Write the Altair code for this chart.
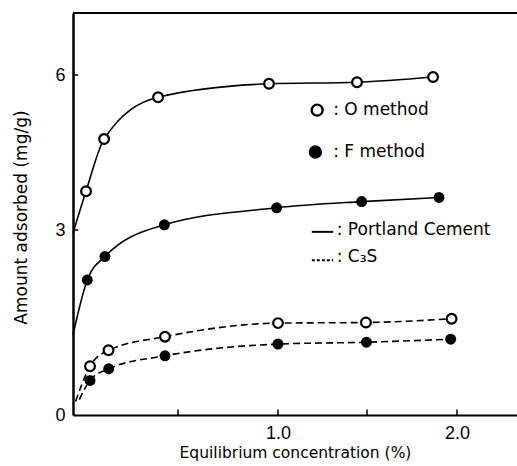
import altair as alt
import pandas as pd

# ---- data ----
pc_o_x = [0.062, 0.148, 0.405, 0.955, 1.444, 1.867]
pc_o_y = [3.75, 4.76, 5.57, 5.83, 5.86, 5.96]
pc_f_x = [0.068, 0.152, 0.435, 0.993, 1.47, 1.90]
pc_f_y = [2.19, 2.57, 3.10, 3.43, 3.55, 3.63]
c3s_o_x = [0.081, 0.169, 0.438, 1.0, 1.494, 1.97]
c3s_o_y = [0.79, 1.05, 1.27, 1.49, 1.50, 1.56]
c3s_f_x = [0.081, 0.17, 0.438, 1.0, 1.497, 1.965]
c3s_f_y = [0.56, 0.75, 0.96, 1.15, 1.18, 1.23]
# where each curve leaves the axis
start_x = {"pc_o": 0.0, "pc_f": 0.0, "c3s_o": 0.012, "c3s_f": 0.03}
start_y = {"pc_o": 2.95, "pc_f": 1.3, "c3s_o": 0.22, "c3s_f": 0.25}

x_ticks = [0.5, 1.0, 1.5, 2.0]
y_ticks = [0, 3, 6]
y_top = 7.2

# legend entries (data coordinates)
leg_marker_x = [1.22, 1.21]
leg_marker_y = [5.32, 4.51]
leg_marker_fill = ["white", "black"]
leg_text_x = [1.31, 1.31, 1.33, 1.33]
leg_text_y = [5.32, 4.51, 3.0, 2.56]
leg_text = [": O method", ": F method", ": Portland Cement", ": C\u2083S"]
leg_line_x = [1.19, 1.31]
leg_solid_y = 2.97
leg_dash_y = 2.51

FONT = "DejaVu Sans"

xs = alt.Scale(domain=[0, 0.5, 1.0, 1.5, 2.0, 2.333], range=[0, 105, 205, 294, 384, 444],
               nice=False, zero=False)
ys = alt.Scale(domain=[0, 3, 6, 7.2], range=[402, 217, 62, 0], nice=False, zero=False)

series = {
    "pc_o": (pc_o_x, pc_o_y),
    "pc_f": (pc_f_x, pc_f_y),
    "c3s_o": (c3s_o_x, c3s_o_y),
    "c3s_f": (c3s_f_x, c3s_f_y),
}
line_rows, pt_rows = [], []
for k, (xv, yv) in series.items():
    line_rows.append({"s": k, "x": start_x[k], "y": start_y[k]})
    for a, b in zip(xv, yv):
        line_rows.append({"s": k, "x": a, "y": b})
        pt_rows.append({"s": k, "x": a, "y": b, "open": k.endswith("_o")})
lines = pd.DataFrame(line_rows)
pts = pd.DataFrame(pt_rows)

x_axis = alt.Axis(values=x_ticks, ticks=False, grid=False,
                  labelExpr="datum.value == 1 || datum.value == 2 ? format(datum.value, '.1f') : ''",
                  labelFont="Liberation Sans", labelFontSize=18, labelColor="black",
                  labelPadding=9, labelOverlap=False,
                  domainColor="black", domainWidth=2,
                  title="Equilibrium concentration (%)", titleFont=FONT, titleFontSize=15.5,
                  titleFontWeight="normal", titleColor="black",
                  titleX=222, titleY=37, titleBaseline="middle", titleAlign="center")
y_axis = alt.Axis(values=y_ticks, ticks=False, grid=False,
                  labelFont="Liberation Sans", labelFontSize=18, labelColor="black",
                  labelPadding=8,
                  domainColor="black", domainWidth=2.5,
                  title="Amount adsorbed (mg/g)", titleFont=FONT, titleFontSize=17,
                  titleFontWeight="normal", titleColor="black",
                  titleX=-52, titleY=204, titleBaseline="middle", titleAlign="center",
                  titleAngle=-90)


def X(f="x"):
    return alt.X(f"{f}:Q", scale=xs, axis=x_axis)


def Y(f="y"):
    return alt.Y(f"{f}:Q", scale=ys, axis=y_axis)


solid = alt.Chart(lines[lines.s.str.startswith("pc")]).mark_line(
    interpolate="monotone", color="black", strokeWidth=1.6).encode(x=X(), y=Y(), detail="s:N")
dashed = alt.Chart(lines[lines.s.str.startswith("c3s")]).mark_line(
    interpolate="monotone", color="black", strokeWidth=1.6, strokeDash=[7, 4]).encode(
    x=X(), y=Y(), detail="s:N")

open_pts = alt.Chart(pts[pts.open]).mark_point(
    shape="circle", filled=True, fill="white", stroke="black", strokeWidth=2.2, size=95,
    opacity=1).encode(x=X(), y=Y())
fill_pts = alt.Chart(pts[~pts.open]).mark_point(
    shape="circle", filled=True, color="black", size=120, opacity=1).encode(x=X(), y=Y())

top_rule = alt.Chart(pd.DataFrame({"y": [y_top]})).mark_rule(
    color="black", strokeWidth=2).encode(y=Y())

xt = pd.DataFrame({"x": x_ticks, "y": [0] * len(x_ticks), "y1": [0.09] * len(x_ticks)})
x_tick_rules = alt.Chart(xt).mark_rule(color="black", strokeWidth=1.5).encode(
    x=X(), y=Y(), y2="y1:Q")
yt = pd.DataFrame({"y": y_ticks[1:], "x": [0, 0], "x1": [0.025, 0.025]})
y_tick_rules = alt.Chart(yt).mark_rule(color="black", strokeWidth=1.5).encode(
    y=Y(), x=X(), x2="x1:Q")

leg_m = pd.DataFrame({"x": leg_marker_x, "y": leg_marker_y, "f": leg_marker_fill})
leg_markers = alt.Chart(leg_m).mark_point(shape="circle", filled=True, stroke="black",
                                          strokeWidth=2.4, size=120, opacity=1).encode(
    x=X(), y=Y(), fill=alt.Fill("f:N", scale=None))
leg_t = pd.DataFrame({"x": leg_text_x, "y": leg_text_y, "t": leg_text})
leg_texts = alt.Chart(leg_t).mark_text(align="left", baseline="middle", font=FONT,
                                       fontSize=17, color="black").encode(
    x=X(), y=Y(), text="t:N")
leg_solid = alt.Chart(pd.DataFrame({"x": leg_line_x, "y": [leg_solid_y] * 2})).mark_line(
    color="black", strokeWidth=2).encode(x=X(), y=Y())
leg_dash = alt.Chart(pd.DataFrame({"x": leg_line_x, "y": [leg_dash_y] * 2})).mark_line(
    color="black", strokeWidth=2, strokeDash=[3, 2]).encode(x=X(), y=Y())

chart = alt.layer(
    top_rule, x_tick_rules, y_tick_rules,
    solid, dashed, open_pts, fill_pts,
    leg_solid, leg_dash, leg_markers, leg_texts,
).properties(
    width=444, height=402,
    autosize=alt.AutoSizeParams(type="none"),
    padding={"left": 73, "top": 13, "right": 0, "bottom": 51},
).configure_view(stroke=None).configure(background="white")

chart.save("out.html", embed_options={"renderer": "svg", "actions": False})
